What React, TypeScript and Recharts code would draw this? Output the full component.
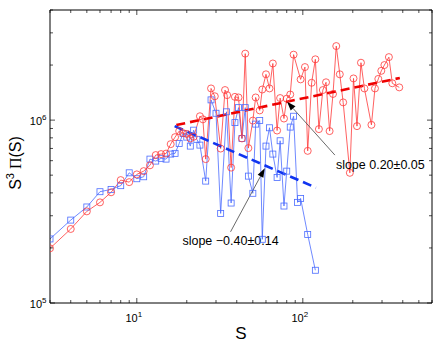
import React from "react";
import { ComposedChart, Line, XAxis, YAxis, ReferenceLine, Label } from "recharts";

// S values and S^3 Pi(S)
const redS = [3, 4, 5, 6, 7, 8, 9, 10, 11, 12, 13, 14, 15, 16, 17, 18, 19, 20, 21, 22, 24, 25, 26, 28, 29.5, 32, 34, 35, 37, 39, 41, 43, 45, 47, 50, 52, 55, 57, 60, 63, 66, 70, 73, 77, 80, 84, 88, 97, 103, 107, 113, 119, 125, 132, 138, 145, 152, 159, 167, 175, 192, 202, 212, 224, 235, 259, 272, 285, 297, 310, 330, 346, 381];
const redV = [1.99e5, 2.54e5, 3.17e5, 3.55e5, 4.03e5, 4.7e5, 4.58e5, 5.05e5, 5.26e5, 5.66e5, 6.44e5, 6.52e5, 6.56e5, 7.39e5, 8.07e5, 8.71e5, 8.49e5, 8.4e5, 7.94e5, 8.11e5, 1.05e6, 1.01e6, 6.12e5, 1.49e6, 1.35e6, 6.99e5, 1.46e6, 1.37e6, 5.5e5, 1.34e6, 1.33e6, 7.94e5, 2.31e6, 7.03e5, 9.94e5, 1.33e6, 1.13e6, 1.47e6, 1.78e6, 1.49e6, 2.04e6, 8.77e5, 1.32e6, 1.02e6, 1.31e6, 1.38e6, 2.28e6, 1.67e6, 1.95e6, 6.79e5, 1.6e6, 2.15e6, 8.93e5, 1.46e6, 1.61e6, 8.71e5, 1.39e6, 2.54e6, 1.78e6, 1.25e6, 5.15e5, 1.69e6, 9.27e5, 2.06e6, 1.49e6, 9.42e5, 1.49e6, 1.68e6, 1.86e6, 2.0e6, 2.21e6, 1.59e6, 1.51e6];

const blueS = [3, 4, 5, 6, 7, 8, 9, 10, 11, 12, 13, 14, 15, 16, 17, 18, 19, 20, 21, 22, 23, 24, 26, 28, 30, 32, 34.7, 37, 39, 41, 43, 45, 47, 50, 52, 55, 57, 60, 63, 66, 70, 73, 77, 80, 84, 88, 93, 97, 107, 119];
const blueV = [2.24e5, 2.84e5, 3.35e5, 4.06e5, 4.18e5, 4.38e5, 5.15e5, 4.78e5, 4.9e5, 6.12e5, 5.97e5, 6.18e5, 6.12e5, 6.52e5, 6.58e5, 7.44e5, 8.46e5, 8.07e5, 7.21e5, 8.81e5, 7.85e5, 7.3e5, 4.64e5, 1.29e6, 1.09e6, 3.09e5, 1.11e6, 3.52e5, 9.69e5, 1.17e6, 7.94e5, 1.17e6, 4.94e5, 3.98e5, 9.51e5, 9.94e5, 2.23e5, 7.21e5, 9.08e5, 6.52e5, 4.86e5, 7.71e5, 3.39e5, 5.26e5, 9.16e5, 1.05e6, 3.55e5, 3.73e5, 2.37e5, 1.51e5];

// power-law fits (end points)
const redFitS = [17.3, 384];
const redFitV = [9.4e5, 1.7e6];
const blueFitS = [16.9, 120];
const blueFitV = [9.27e5, 4.27e5];

const xTicks = [3, 4, 5, 6, 7, 8, 9, 10, 20, 30, 40, 50, 60, 70, 80, 90, 100, 200, 300, 400, 500, 600];
const yTicks = [1e5, 2e5, 3e5, 4e5, 5e5, 6e5, 7e5, 8e5, 9e5, 1e6, 2e6, 3e6, 4e6];
const majorTicks = [1e1, 1e2, 1e5, 1e6];

const notes = [
  { text: "slope 0.20\u00b10.05", tailS: 156, tailV: 6.44e5, headS: 80.4, headV: 1.26e6, anchor: "start", dx: 1, dy: 14 },
  { text: "slope \u22120.40\u00b10.14", tailS: 36.7, tailV: 2.45e5, headS: 59, headV: 5.45e5, anchor: "middle", dx: 0, dy: 13 },
];

const RED = "#ff3838";
const BLUE = "#4a6bff";
const FONT = "'Liberation Sans', Arial, Helvetica, sans-serif";

const redData = redS.map((s, i) => ({ s, v: redV[i] }));
const blueData = blueS.map((s, i) => ({ s, v: blueV[i] }));
const redFit = redFitS.map((s, i) => ({ s, v: redFitV[i] }));
const blueFit = blueFitS.map((s, i) => ({ s, v: blueFitV[i] }));

const isMajor = (v: number) => majorTicks.includes(v);
const expOf = (v: number) => Math.round(Math.log10(v));

const BottomTick = (props: any) => {
  const { x, y, payload } = props;
  const major = isMajor(payload.value);
  return (
    <g>
      <line x1={x} y1={y} x2={x} y2={y - (major ? 5 : 3)} stroke="#000" strokeWidth={0.7} />
      {major && (
        <text x={x - 3} y={y + 19} textAnchor="middle" fontSize={11} fontFamily={FONT} fill="#000">
          10<tspan dy={-5} fontSize={8}>{expOf(payload.value)}</tspan>
        </text>
      )}
    </g>
  );
};

const TopTick = (props: any) => {
  const { x, y, payload } = props;
  const major = isMajor(payload.value);
  return <line x1={x} y1={y} x2={x} y2={y + (major ? 5 : 3)} stroke="#000" strokeWidth={0.7} />;
};

const LeftTick = (props: any) => {
  const { x, y, payload } = props;
  const major = isMajor(payload.value);
  return (
    <g>
      <line x1={x} y1={y} x2={x + (major ? 5 : 3)} y2={y} stroke="#000" strokeWidth={0.7} />
      {major && (
        <text x={x - 3.5} y={y + 5} textAnchor="end" fontSize={11} fontFamily={FONT} fill="#000">
          10<tspan dy={-5} fontSize={8}>{expOf(payload.value)}</tspan>
        </text>
      )}
    </g>
  );
};

const RightTick = (props: any) => {
  const { x, y, payload } = props;
  const major = isMajor(payload.value);
  return <line x1={x} y1={y} x2={x - (major ? 5 : 3)} y2={y} stroke="#000" strokeWidth={0.7} />;
};

const Square = (props: any) => {
  const { cx, cy, index } = props;
  return <rect key={index} x={cx - 3} y={cy - 3} width={6} height={6} fill="none" stroke={BLUE} strokeWidth={0.8} />;
};

const arrowShape = (note: any) => (props: any) => {
  const { x1, y1, x2, y2 } = props;
  const ang = Math.atan2(y2 - y1, x2 - x1);
  const len = 9;
  const half = 3.2;
  const bx = x2 - len * Math.cos(ang);
  const by = y2 - len * Math.sin(ang);
  const px = -Math.sin(ang) * half;
  const py = Math.cos(ang) * half;
  return (
    <g>
      <line x1={x1} y1={y1} x2={bx} y2={by} stroke="#444" strokeWidth={0.8} />
      <polygon points={`${x2},${y2} ${bx + px},${by + py} ${bx - px},${by - py}`} fill="#000" />
      <text x={x1 + note.dx} y={y1 + note.dy} textAnchor={note.anchor} fontSize={12.5} fontFamily={FONT} fill="#000">
        {note.text}
      </text>
    </g>
  );
};

const App: React.FC = () => {
  return (
    <div style={{ position: "fixed", left: 0, top: 0, width: 435, height: 342, background: "#fff" }}>
      <ComposedChart width={435} height={342} margin={{ top: 9, right: 2, left: 0, bottom: 0 }}>
        <XAxis
          dataKey="s"
          type="number"
          scale="log"
          domain={[3, 600]}
          ticks={xTicks}
          interval={0}
          allowDataOverflow
          height={39}
          tickSize={0}
          tickMargin={0}
          tickLine={false}
          tick={<BottomTick />}
          axisLine={{ stroke: "#000", strokeWidth: 1 }}
        >
          <Label
            content={(p: any) => {
              const vb = p.viewBox;
              return (
                <text x={vb.x + vb.width / 2} y={vb.y + 36} textAnchor="middle" fontSize={17} fontFamily={FONT} fill="#000">
                  S
                </text>
              );
            }}
          />
        </XAxis>
        <XAxis
          xAxisId="top"
          orientation="top"
          dataKey="s"
          type="number"
          scale="log"
          domain={[3, 600]}
          ticks={xTicks}
          interval={0}
          allowDataOverflow
          height={1}
          tickSize={0}
          tickMargin={0}
          tickLine={false}
          tick={<TopTick />}
          axisLine={{ stroke: "#000", strokeWidth: 1 }}
        />
        <YAxis
          type="number"
          scale="log"
          domain={[1e5, 4e6]}
          ticks={yTicks}
          interval={0}
          allowDataOverflow
          width={50}
          tickSize={0}
          tickMargin={0}
          tickLine={false}
          tick={<LeftTick />}
          axisLine={{ stroke: "#000", strokeWidth: 1 }}
        >
          <Label
            content={() => {
              const cx = 21;
              const cy = 163;
              return (
                <text x={cx} y={cy} transform={`rotate(-90, ${cx}, ${cy})`} textAnchor="middle" fontSize={16} fontFamily={FONT} fill="#000">
                  S<tspan dy={-7} fontSize={11}>3</tspan>
                  <tspan dy={7} fontFamily="'Liberation Serif', 'DejaVu Serif', serif"> {"\u03a0"}</tspan>(S)
                </text>
              );
            }}
          />
        </YAxis>
        <YAxis
          yAxisId="right"
          orientation="right"
          type="number"
          scale="log"
          domain={[1e5, 4e6]}
          ticks={yTicks}
          interval={0}
          allowDataOverflow
          width={1}
          tickSize={0}
          tickMargin={0}
          tickLine={false}
          tick={<RightTick />}
          axisLine={{ stroke: "#000", strokeWidth: 1 }}
        />
        <Line
          data={blueData}
          dataKey="v"
          type="linear"
          stroke={BLUE}
          strokeWidth={0.8}
          dot={Square}
          activeDot={false}
          isAnimationActive={false}
        />
        <Line
          data={redData}
          dataKey="v"
          type="linear"
          stroke={RED}
          strokeWidth={0.8}
          dot={{ r: 3.5, stroke: RED, strokeWidth: 0.8, fill: "none" }}
          activeDot={false}
          isAnimationActive={false}
        />
        <Line
          data={redFit}
          xAxisId="top"
          yAxisId="right"
          dataKey="v"
          type="linear"
          stroke="#ee0000"
          strokeWidth={2.6}
          strokeDasharray="9 5"
          dot={false}
          activeDot={false}
          isAnimationActive={false}
        />
        <Line
          data={blueFit}
          xAxisId="top"
          yAxisId="right"
          dataKey="v"
          type="linear"
          stroke="#1034f0"
          strokeWidth={2.6}
          strokeDasharray="9 5"
          dot={false}
          activeDot={false}
          isAnimationActive={false}
        />
        {notes.map((n) => (
          <ReferenceLine
            key={n.text}
            segment={[
              { x: n.tailS, y: n.tailV },
              { x: n.headS, y: n.headV },
            ]}
            shape={arrowShape(n)}
          />
        ))}
      </ComposedChart>
    </div>
  );
};

export default App;
